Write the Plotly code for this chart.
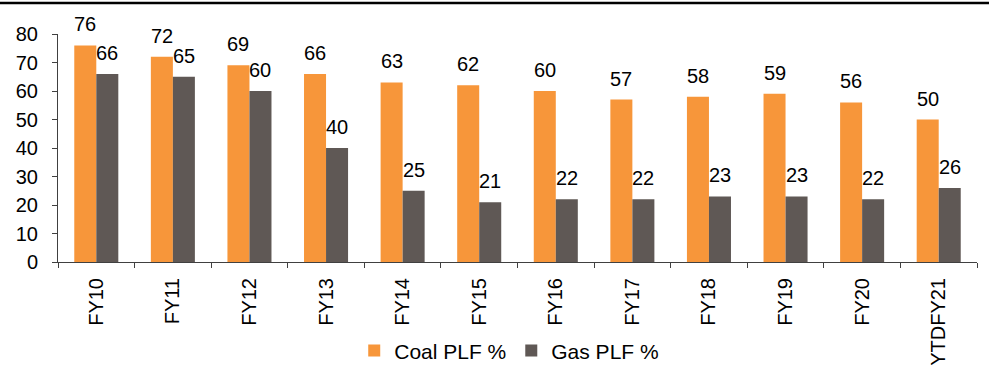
import plotly.graph_objects as go

# Plant load factor by fiscal year
years = ["FY10", "FY11", "FY12", "FY13", "FY14", "FY15", "FY16", "FY17",
         "FY18", "FY19", "FY20", "YTDFY21"]
coal_plf = [76, 72, 69, 66, 63, 62, 60, 57, 58, 59, 56, 50]
gas_plf = [66, 65, 60, 40, 25, 21, 22, 22, 23, 23, 22, 26]
y_ticks = [0, 10, 20, 30, 40, 50, 60, 70, 80]

COAL = "#F7963A"
GAS = "#5F5855"
FONT = "Arial, Liberation Sans, sans-serif"

fig = go.Figure()
fig.add_trace(go.Bar(x=years, y=coal_plf, name="Coal PLF %",
                     marker=dict(color=COAL, line=dict(width=0))))
fig.add_trace(go.Bar(x=years, y=gas_plf, name="Gas PLF %",
                     marker=dict(color=GAS, line=dict(width=0))))

# Value labels above each bar
bar_px = 22
annotations = []
for i, yr in enumerate(years):
    for val, shift in ((coal_plf[i], -bar_px / 2), (gas_plf[i], bar_px / 2)):
        annotations.append(dict(
            x=yr, y=val, xref="x", yref="y", text=str(val), showarrow=False,
            xshift=shift, yshift=21, yanchor="middle",
            font=dict(size=20, color="#000000", family=FONT)))

fig.update_layout(
    width=989, height=365,
    margin=dict(l=58, r=12, t=34, b=103, autoexpand=False),
    paper_bgcolor="white", plot_bgcolor="white",
    barmode="group", bargap=0.425, bargroupgap=0,
    font=dict(family=FONT, size=20, color="#000000"),
    showlegend=True,
    legend=dict(orientation="h", x=0.491, xanchor="center", y=-0.39,
                yanchor="middle", font=dict(size=21), bgcolor="rgba(0,0,0,0)",
                itemsizing="constant", tracegroupgap=0),
    annotations=annotations,
    shapes=[dict(type="line", xref="paper", yref="paper",
                 x0=-58 / 919, x1=1 + 12 / 919, y0=1 + 31 / 228, y1=1 + 31 / 228,
                 line=dict(color="#000000", width=2.5))],
)
fig.update_xaxes(
    type="category", automargin=False, showgrid=False, showline=True,
    linecolor="#404040", linewidth=1, ticks="outside", tickson="boundaries",
    ticklen=5, tickcolor="#404040", tickangle=-90, tickfont=dict(size=20),
    ticklabelstandoff=7,
)
fig.update_yaxes(
    range=[0, 80], tickvals=y_ticks, automargin=False, showgrid=False,
    zeroline=False, showline=True, linecolor="#404040", linewidth=1,
    ticks="outside", ticklen=5, tickcolor="#404040", tickfont=dict(size=20),
    ticklabelstandoff=10,
)

fig.write_html("out.html")
